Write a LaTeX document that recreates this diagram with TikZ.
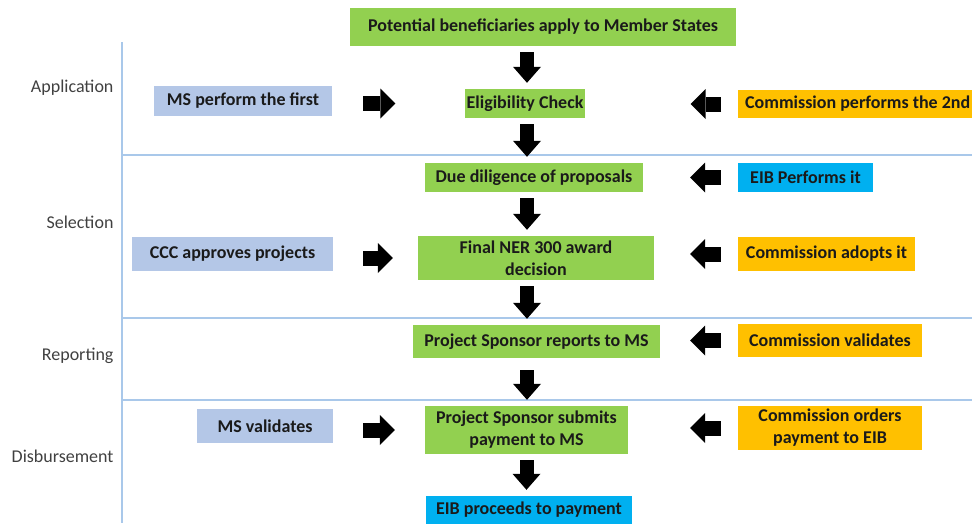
\documentclass[tikz,border=0pt]{standalone}
\usepackage{fontspec}
\setmainfont{Carlito}
\usepackage{tikz}
\usetikzlibrary{arrows.meta}
\definecolor{stagegreen}{HTML}{92D050}
\definecolor{actorblue}{HTML}{B4C7E7}
\definecolor{commorange}{HTML}{FFC000}
\definecolor{eibcyan}{HTML}{00B0F0}
\definecolor{lanecolor}{HTML}{A9C8EA}
\definecolor{boxtext}{HTML}{1A1A1A}
\definecolor{phasegray}{HTML}{404040}
\tikzset{
  box/.style={shape=rectangle, text=boxtext, align=center, inner sep=2pt, font=\bfseries\fontsize{18}{22}\selectfont},
  stage/.style={box, fill=stagegreen},
  actor/.style={box, fill=actorblue},
  comm/.style={box, fill=commorange},
  eib/.style={box, fill=eibcyan},
  phase/.style={anchor=east, text=phasegray, font=\fontsize{18}{22}\selectfont},
  lane/.style={draw=lanecolor, line width=1.5pt},
  darrow/.style={line width=14pt, -{Triangle[width=28pt,length=16pt,line width=0pt]}, shorten <=6pt, shorten >=6pt},
  harrow/.style={line width=15pt, -{Triangle[width=30pt,length=15pt,line width=0pt]}}
}
\begin{document}
\begin{tikzpicture}[x=1pt,y=-1pt]
\useasboundingbox (0,0) rectangle (972,523);
\draw[lane] (122,42) -- (122,523);
\draw[lane] (122,155) -- (972,155);
\draw[lane] (122,318) -- (972,318);
\draw[lane] (122,400) -- (972,400);
\node(app)[phase] at (117,88) {Application};
\node(sel)[phase] at (117,222) {Selection};
\node(rep)[phase] at (117,356) {Reporting};
\node(dis)[phase] at (117,456) {Disbursement};
\node(pot)[stage, minimum width=386pt, minimum height=38pt] at (543,27) {Potential beneficiaries apply to Member States};
\node(elig)[stage, minimum width=120pt, minimum height=29pt] at (525,103.5) {Eligibility Check};
\node(due)[stage, minimum width=218pt, minimum height=29pt] at (534,177.5) {Due diligence of proposals};
\node(ner)[stage, minimum width=236pt, minimum height=44pt] at (536,258) {Final NER 300 award\\decision};
\node(psr)[stage, minimum width=247pt, minimum height=33pt] at (536.5,341.5) {Project Sponsor reports to MS};
\node(pss)[stage, minimum width=203pt, minimum height=48pt] at (526.5,430) {Project Sponsor submits\\payment to MS};
\node(pay)[eib, minimum width=206pt, minimum height=28pt] at (529,510) {EIB proceeds to payment};
\node(msfirst)[actor, minimum width=178pt, minimum height=30pt] at (243,101) {MS perform the first};
\node(ccc)[actor, minimum width=201pt, minimum height=34pt] at (232.5,254) {CCC approves projects};
\node(msval)[actor, minimum width=136pt, minimum height=34pt] at (265,426) {MS validates};
\node(comsecond)[comm, anchor=west, inner xsep=7pt, minimum height=28pt] at (738,104) {Commission performs the 2nd};
\node(eibdue)[eib, minimum width=135pt, minimum height=29pt] at (805.5,177.5) {EIB Performs it};
\node(comadopt)[comm, minimum width=177pt, minimum height=34pt] at (826.5,254) {Commission adopts it};
\node(comval)[comm, minimum width=184pt, minimum height=33pt] at (830,340.5) {Commission validates};
\node(comorder)[comm, minimum width=184pt, minimum height=44pt] at (830,428) {Commission orders\\payment to EIB};
\coordinate (spine) at (527,0);
\draw[darrow] (pot.south -| spine) -- (elig.north -| spine);
\draw[darrow] (elig.south -| spine) -- (due.north -| spine);
\draw[darrow] (due.south -| spine) -- (ner.north -| spine);
\draw[darrow] (ner.south -| spine) -- (psr.north -| spine);
\draw[darrow, shorten <=12pt] (psr.south -| spine) -- (pss.north -| spine);
\draw[darrow] (pss.south) -- (pss.south |- pay.north);
\draw[harrow, shorten <=31pt, shorten >=69pt] (msfirst.east |- elig.west) -- (elig.west);
\draw[harrow, shorten <=30pt, shorten >=25pt] (ccc.east |- ner.west) -- (ner.west);
\draw[harrow, shorten <=30pt, shorten >=30pt] (msval.east |- pss.west) -- (pss.west);
\draw[harrow, shorten <=17pt, shorten >=105pt] (comsecond.west) -- (comsecond.west -| elig.east);
\draw[harrow, shorten <=17pt, shorten >=47pt] (eibdue.west) -- (eibdue.west -| due.east);
\draw[harrow, shorten <=17pt, shorten >=36pt] (comadopt.west) -- (comadopt.west -| ner.east);
\draw[harrow, shorten <=17pt, shorten >=30pt] (comval.west) -- (comval.west -| psr.east);
\draw[harrow, shorten <=17pt, shorten >=62pt] (comorder.west) -- (comorder.west -| pss.east);
\end{tikzpicture}
\end{document}
